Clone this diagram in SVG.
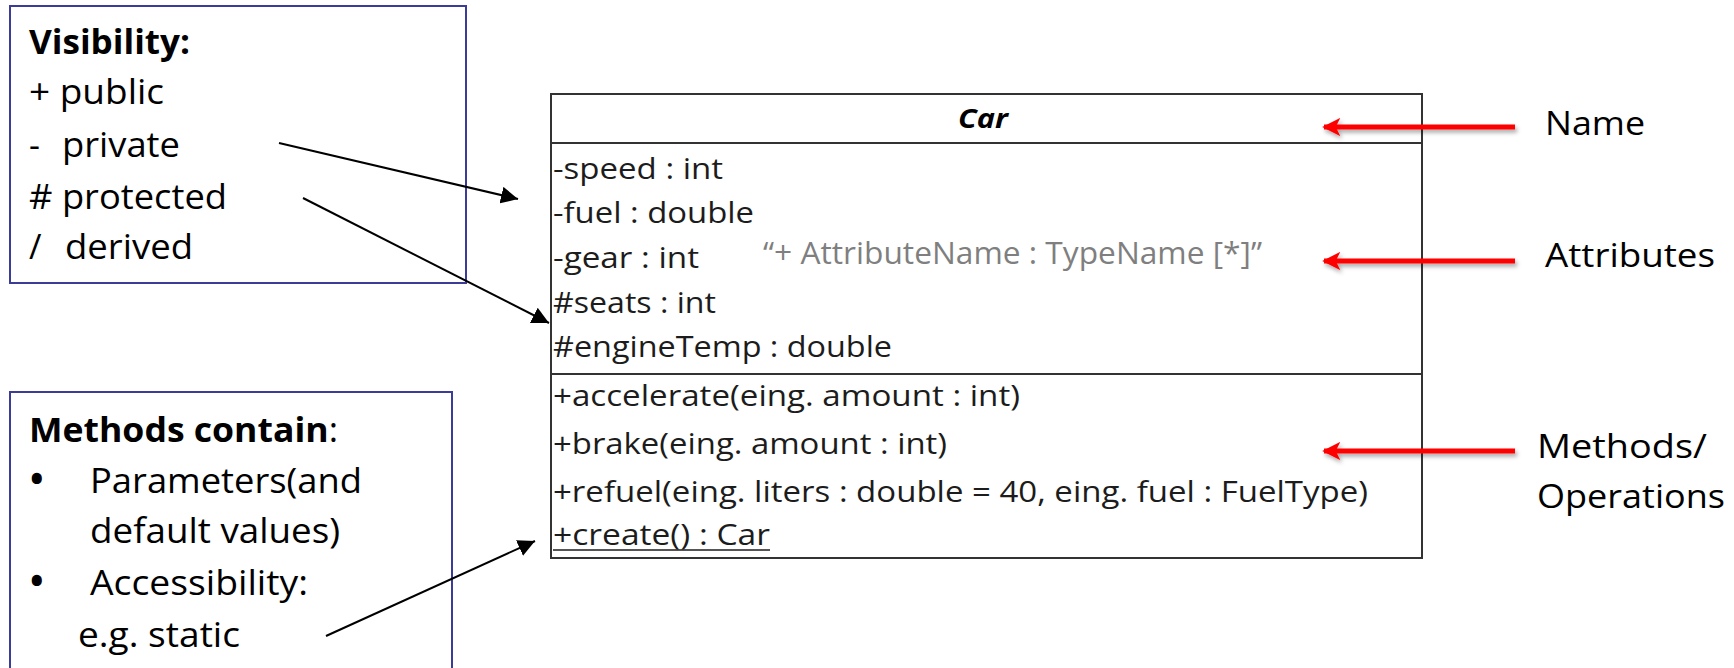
<svg xmlns="http://www.w3.org/2000/svg" width="1734" height="668" viewBox="0 0 1734 668">
  <style>
    text { font-family: "Open Sans", "Liberation Sans", sans-serif; fill: #000; }
    .note { font-size: 34px; }
    .dot { font-size: 36px; font-weight: bold; }
    .b { font-weight: bold; }
    .frame { fill: #fff; stroke: #3b3b98; stroke-width: 2; }
    .cls { font-size: 29px; fill: #1c1c1c; }
    .hint { font-size: 31px; fill: #7f7f7f; }
    .box { fill: #fff; stroke: #333; stroke-width: 2; }
    .div { stroke: #333; stroke-width: 2; }
    .lbl { font-size: 33px; }
    .ptr { stroke: #000; stroke-width: 2; fill: none; marker-end: url(#blackHead); }
    .red { stroke: #f00; stroke-width: 5; fill: none; marker-end: url(#redHead); }
  </style>
  <defs>
    <marker id="blackHead" viewBox="0 0 10 10" refX="10" refY="5" markerWidth="8.5" markerHeight="8.5" orient="auto" markerUnits="strokeWidth">
      <path d="M0,0 L10,5 L0,10 z" fill="#000"/>
    </marker>
    <marker id="redHead" viewBox="0 0 10 10" refX="9" refY="5" markerWidth="3.6" markerHeight="3.6" orient="auto" markerUnits="strokeWidth">
      <path d="M0,0 L10,5 L0,10 L2.5,5 z" fill="#f00"/>
    </marker>
    <filter id="shadow" x="-10%" y="-100%" width="120%" height="300%">
      <feDropShadow dx="2" dy="3" stdDeviation="2" flood-color="#000" flood-opacity="0.35"/>
    </filter>
  </defs>

  <rect width="1734" height="668" fill="#fff"/>

  <!-- visibility legend -->
  <g id="visibility">
    <rect class="frame" x="10" y="6" width="456" height="277"/>
    <text class="note b" x="29" y="54" textLength="161" lengthAdjust="spacingAndGlyphs">Visibility:</text>
    <text class="note" x="29" y="104" textLength="135" lengthAdjust="spacingAndGlyphs">+ public</text>
    <text class="note" x="29" y="157">-</text>
    <text class="note" x="62" y="157" textLength="118" lengthAdjust="spacingAndGlyphs">private</text>
    <text class="note" x="29" y="209" textLength="198" lengthAdjust="spacingAndGlyphs"># protected</text>
    <text class="note" x="29" y="259">/</text>
    <text class="note" x="65" y="259" textLength="128" lengthAdjust="spacingAndGlyphs">derived</text>
  </g>

  <!-- method notes -->
  <g id="methods-note">
    <rect class="frame" x="10" y="392" width="442" height="300"/>
    <text class="note" x="29" y="442" textLength="309" lengthAdjust="spacingAndGlyphs"><tspan class="b">Methods contain</tspan>:</text>
    <text class="dot" x="30" y="492">•</text>
    <text class="note" x="90" y="493" textLength="272" lengthAdjust="spacingAndGlyphs">Parameters(and</text>
    <text class="note" x="90" y="543" textLength="250" lengthAdjust="spacingAndGlyphs">default values)</text>
    <text class="dot" x="30" y="594">•</text>
    <text class="note" x="90" y="595" textLength="218" lengthAdjust="spacingAndGlyphs">Accessibility:</text>
    <text class="note" x="78" y="647" textLength="162" lengthAdjust="spacingAndGlyphs">e.g. static</text>
  </g>

  <!-- UML class -->
  <g id="car-class">
    <rect class="box" x="551" y="94" width="871" height="464"/>
    <line class="div" x1="551" y1="143" x2="1422" y2="143"/>
    <line class="div" x1="551" y1="374" x2="1422" y2="374"/>
    <text x="958" y="128" font-size="26" font-weight="bold" font-style="italic" textLength="50" lengthAdjust="spacingAndGlyphs">Car</text>

    <text class="cls" x="553" y="179" textLength="170" lengthAdjust="spacingAndGlyphs">-speed : int</text>
    <text class="cls" x="553" y="223" textLength="201" lengthAdjust="spacingAndGlyphs">-fuel : double</text>
    <text class="cls" x="553" y="268" textLength="146" lengthAdjust="spacingAndGlyphs">-gear : int</text>
    <text class="cls" x="553" y="313" textLength="163" lengthAdjust="spacingAndGlyphs">#seats : int</text>
    <text class="cls" x="553" y="357" textLength="339" lengthAdjust="spacingAndGlyphs">#engineTemp : double</text>
    <text class="hint" x="763" y="264" textLength="499" lengthAdjust="spacingAndGlyphs">“+ AttributeName : TypeName [*]”</text>

    <text class="cls" x="553" y="406" textLength="467" lengthAdjust="spacingAndGlyphs">+accelerate(eing. amount : int)</text>
    <text class="cls" x="553" y="454" textLength="394" lengthAdjust="spacingAndGlyphs">+brake(eing. amount : int)</text>
    <text class="cls" x="553" y="502" textLength="815" lengthAdjust="spacingAndGlyphs">+refuel(eing. liters : double = 40, eing. fuel : FuelType)</text>
    <text class="cls" x="553" y="545" textLength="217" lengthAdjust="spacingAndGlyphs">+create() : Car</text>
    <line x1="553" y1="550" x2="770" y2="550" stroke="#1c1c1c" stroke-width="1.6"/>
  </g>

  <!-- compartment labels -->
  <g id="label-name">
    <text class="lbl" x="1545" y="135" textLength="100" lengthAdjust="spacingAndGlyphs">Name</text>
  </g>
  <g id="label-attributes">
    <text class="lbl" x="1545" y="267" textLength="170" lengthAdjust="spacingAndGlyphs">Attributes</text>
  </g>
  <g id="label-methods">
    <text class="lbl" x="1537" y="458" textLength="170" lengthAdjust="spacingAndGlyphs">Methods/</text>
    <text class="lbl" x="1537" y="508" textLength="188" lengthAdjust="spacingAndGlyphs">Operations</text>
  </g>

  <!-- connectors -->
  <g id="connectors">
    <line class="ptr" x1="279" y1="143" x2="518" y2="199"/>
    <line class="ptr" x1="303" y1="198" x2="549" y2="323"/>
    <line class="ptr" x1="326" y1="636" x2="535" y2="541"/>
    <g filter="url(#shadow)">
      <line class="red" x1="1515" y1="127" x2="1324" y2="127"/>
      <line class="red" x1="1515" y1="261" x2="1324" y2="261"/>
      <line class="red" x1="1515" y1="451" x2="1324" y2="451"/>
    </g>
  </g>
</svg>
